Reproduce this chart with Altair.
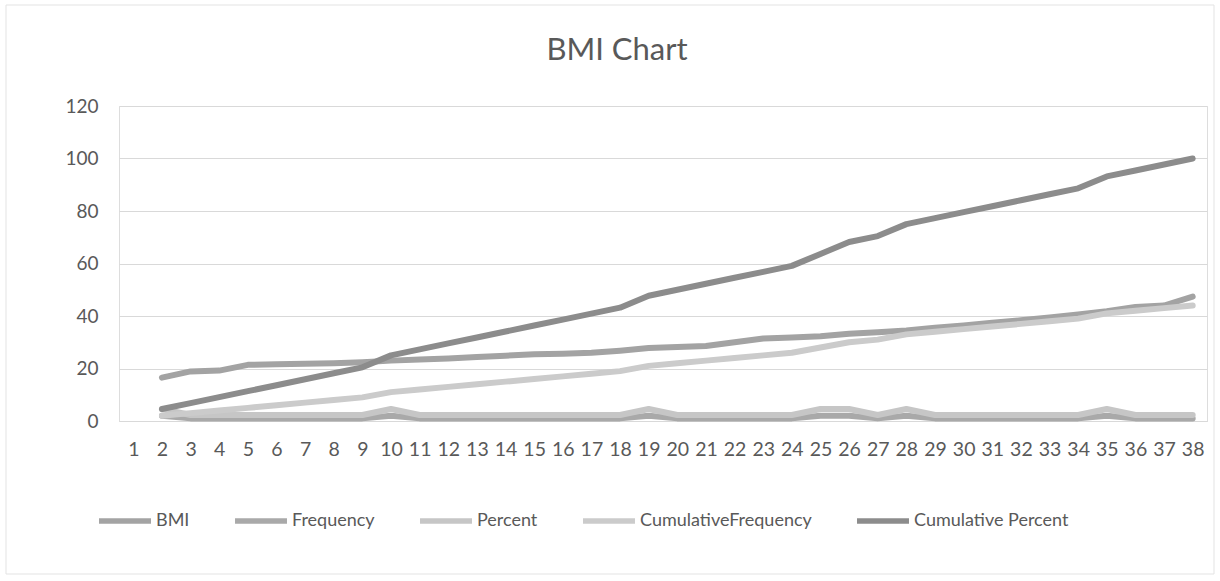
import altair as alt
import pandas as pd

# Category axis (row numbers); the first row holds no values
categories = list(range(1, 39))
rows = list(range(2, 39))

series_names = ["BMI", "Frequency", "Percent", "CumulativeFrequency", "Cumulative Percent"]
series_colors = ["#a3a3a3", "#a9a9a9", "#c6c6c6", "#cbcbcb", "#8c8c8c"]

bmi = [16.5, 18.9, 19.2, 21.4, 21.6, 21.8, 22.0, 22.4, 23.0, 23.4, 23.8, 24.4, 24.9,
       25.4, 25.6, 26.0, 26.8, 27.8, 28.2, 28.6, 30.0, 31.4, 31.8, 32.3, 33.2, 33.8,
       34.5, 35.5, 36.4, 37.4, 38.4, 39.4, 40.6, 41.8, 43.4, 44.0, 47.4]
frequency = [2, 1, 1, 1, 1, 1, 1, 1, 2, 1, 1, 1, 1, 1, 1, 1, 1, 2, 1, 1, 1, 1, 1,
             2, 2, 1, 2, 1, 1, 1, 1, 1, 1, 2, 1, 1, 1]
percent = [4.55, 2.27, 2.27, 2.27, 2.27, 2.27, 2.27, 2.27, 4.55, 2.27, 2.27, 2.27,
           2.27, 2.27, 2.27, 2.27, 2.27, 4.55, 2.27, 2.27, 2.27, 2.27, 2.27, 4.55,
           4.55, 2.27, 4.55, 2.27, 2.27, 2.27, 2.27, 2.27, 2.27, 4.55, 2.27, 2.27, 2.27]
cumulative_frequency = [2, 3, 4, 5, 6, 7, 8, 9, 11, 12, 13, 14, 15, 16, 17, 18, 19,
                        21, 22, 23, 24, 25, 26, 28, 30, 31, 33, 34, 35, 36, 37, 38,
                        39, 41, 42, 43, 44]
cumulative_percent = [4.55, 6.82, 9.09, 11.36, 13.64, 15.91, 18.18, 20.45, 25.00,
                      27.27, 29.55, 31.82, 34.09, 36.36, 38.64, 40.91, 43.18, 47.73,
                      50.00, 52.27, 54.55, 56.82, 59.09, 63.64, 68.18, 70.45, 75.00,
                      77.27, 79.55, 81.82, 84.09, 86.36, 88.64, 93.18, 95.45, 97.73,
                      100.00]
y_ticks = [0, 20, 40, 60, 80, 100, 120]

series_values = [bmi, frequency, percent, cumulative_frequency, cumulative_percent]
records = []
for name, values in zip(series_names, series_values):
    for cat, v in zip(rows, values):
        records.append({"Category": cat, "Series": name, "Value": v})
df = pd.DataFrame(records)

FONT = "Lato"
TEXT = "#595959"

lines = alt.Chart(df).mark_line(
    strokeWidth=6, strokeCap="round", strokeJoin="round"
).encode(
    x=alt.X(
        "Category:O",
        scale=alt.Scale(domain=categories, padding=0.5),
        axis=alt.Axis(
            title=None, labelAngle=0, ticks=False, grid=False,
            domainColor="#d9d9d9", domainWidth=1,
            labelFont=FONT, labelFontSize=19.5, labelColor=TEXT, labelPadding=19,
        ),
    ),
    y=alt.Y(
        "Value:Q",
        scale=alt.Scale(domain=[0, 120], nice=False),
        axis=alt.Axis(
            title=None, values=y_ticks, domain=False, ticks=False,
            gridColor="#d9d9d9", gridWidth=1,
            labelFont=FONT, labelFontSize=19, labelColor=TEXT, labelPadding=21,
        ),
    ),
    color=alt.Color(
        "Series:N",
        sort=series_names,
        scale=alt.Scale(domain=series_names, range=series_colors),
        legend=alt.Legend(
            title=None, orient="none", legendX=-23, legendY=386,
            direction="horizontal", columns=5, columnPadding=34,
            symbolType="stroke", symbolSize=2700, symbolStrokeWidth=5.5,
            labelFont=FONT, labelFontSize=18, labelColor=TEXT, labelOffset=2,
            labelLimit=400,
        ),
    ),
)

# light frame around the whole chart area
frame = alt.Chart(pd.DataFrame({"k": [0]})).mark_rect(
    fill=None, stroke="#e3e3e3", strokeWidth=1
).encode(
    x=alt.value(-113), x2=alt.value(1095), y=alt.value(-101), y2=alt.value(468)
)

chart = alt.layer(frame, lines).properties(
    width=1088,
    height=315,
    padding={"left": 119, "top": 106, "right": 13, "bottom": 160},
    autosize=alt.AutoSizeParams(type="none"),
    title=alt.TitleParams(
        "BMI Chart", font=FONT, fontSize=31, fontWeight="normal", color=TEXT,
        anchor="middle", dx=-46, offset=-62,
    ),
).configure_view(stroke=None).configure(background="white")

chart.save("out.html", embed_options={"renderer": "svg", "actions": False})
